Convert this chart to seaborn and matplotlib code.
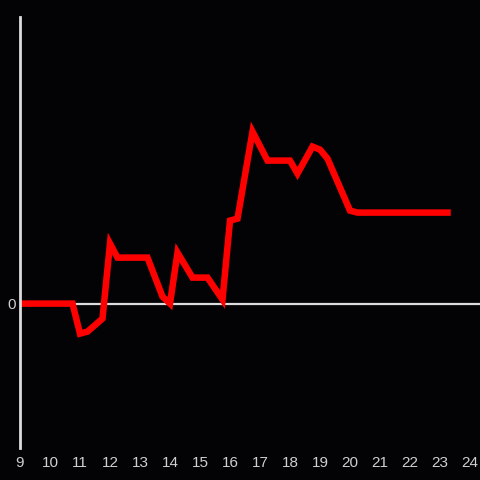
import matplotlib
matplotlib.use("Agg")
import matplotlib.pyplot as plt
import seaborn as sns
import pandas as pd

hours = [9.0, 10.75, 11.0, 11.25, 11.75, 12.0, 12.25, 13.25, 13.75, 14.0, 14.25,
         14.75, 15.25, 15.75, 16.0, 16.25, 16.75, 17.25, 18.0, 18.25, 18.75,
         19.0, 19.25, 20.0, 20.25, 23.25]
values = [0, 0, -30, -28, -15, 60, 46, 46, 7, 0, 51,
          26, 26, 4, 83, 85, 172, 143, 143, 130, 157,
          154, 145, 93, 91, 91]
xticks = list(range(9, 25))

df = pd.DataFrame({"hour": hours, "value": values})

sns.set_style("dark")
bg = "#030204"
fig = plt.figure(figsize=(4.8, 4.8), dpi=100, facecolor=bg)
ax = fig.add_axes([20/480, 32/480, 460/480, 431/480])
ax.set_facecolor(bg)

sns.lineplot(data=df, x="hour", y="value", ax=ax, color="#ff0000",
             linewidth=4.7, solid_joinstyle="miter", solid_capstyle="projecting", zorder=3)
ax.axhline(0, color="#dcdcdc", linewidth=1.6, zorder=2)

ax.set_xlim(9, 9 + 460/30)
ax.set_ylim(-144.4, 286.6)
ax.set_xticks(xticks)
ax.set_xticklabels([str(t) for t in xticks])
ax.set_yticks([0])
ax.set_yticklabels(["0"])
ax.set_xlabel("")
ax.set_ylabel("")
ax.grid(False)
for s in ["top", "right", "bottom"]:
    ax.spines[s].set_visible(False)
ax.spines["left"].set_color("#dcdcdc")
ax.spines["left"].set_linewidth(2)
ax.spines["left"].set_zorder(4)
ax.tick_params(axis="both", length=0, colors="#cfcfcf", labelsize=11)
ax.tick_params(axis="x", pad=6)
ax.tick_params(axis="y", pad=3)
for lab in ax.get_xticklabels() + ax.get_yticklabels():
    lab.set_family("Liberation Sans")

fig.savefig("out.png", dpi=100, facecolor=bg)
